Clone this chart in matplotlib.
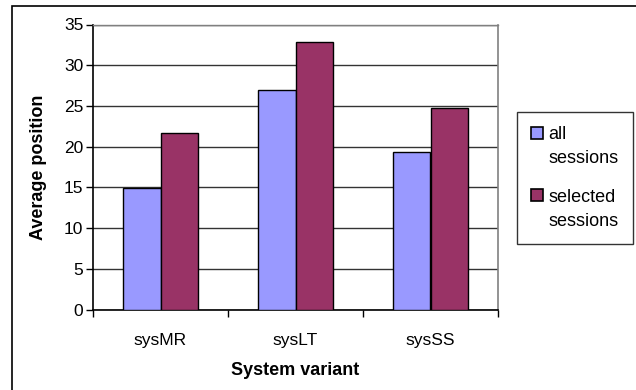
import matplotlib
matplotlib.use("Agg")
import matplotlib.pyplot as plt
import numpy as np
from matplotlib.patches import Rectangle
from matplotlib.legend_handler import HandlerPatch

categories = ["sysMR", "sysLT", "sysSS"]
all_sessions = [14.9, 27.0, 19.4]
selected_sessions = [21.7, 32.9, 24.7]
series_labels = ["all\nsessions", "selected\nsessions"]
yticks = [0, 5, 10, 15, 20, 25, 30, 35]
colors = ['#9999FF', '#993366']

plt.rcParams['font.family'] = ['Liberation Sans', 'DejaVu Sans']

W, H = 636, 390
fig = plt.figure(figsize=(W/100, H/100), dpi=100)

# outer frame
fig.add_artist(Rectangle((12/W, -0.01), (W+10)/W, (H - 6)/H + 0.01, transform=fig.transFigure,
                         fill=False, edgecolor='black', linewidth=1.2))

left, right, top, bottom = 93, 498, 24.5, 309.5
ax = fig.add_axes([left/W, 1 - bottom/H, (right-left)/W, (bottom-top)/H])

x = np.arange(len(categories))
bw = 0.28
ax.bar(x - bw/2, all_sessions, bw, color=colors[0], edgecolor='black', linewidth=1.0, zorder=3)
ax.bar(x + bw/2, selected_sessions, bw, color=colors[1], edgecolor='black', linewidth=1.0, zorder=3)

ax.set_xlim(-0.5, len(categories) - 0.5)
ax.set_ylim(0, 35)
ax.set_yticks(yticks)
ax.set_yticklabels([str(v) for v in yticks], fontsize=12.5)
ax.yaxis.grid(True, color='#333333', linewidth=1.0, zorder=0)
ax.set_axisbelow(True)

ax.set_xticks(x)
ax.set_xticklabels(categories, fontsize=12.5)
ax.tick_params(axis='x', length=0, pad=17)
ax.set_xticks(np.arange(len(categories) + 1) - 0.5, minor=True)
ax.tick_params(axis='x', which='minor', length=5, width=1, direction='out')
ax.tick_params(axis='y', length=5, width=1, direction='out', pad=2)

for s in ['left', 'bottom']:
    ax.spines[s].set_color('black')
    ax.spines[s].set_linewidth(1.2)
ax.spines['right'].set_color('#808080')
ax.spines['top'].set_color('#808080')
ax.spines['right'].set_linewidth(1.2)
ax.spines['top'].set_linewidth(1.0)

ax.set_xlabel("System variant", fontsize=13, fontweight='bold', labelpad=10)
ax.set_ylabel("Average position", fontsize=13, fontweight='bold', labelpad=12)


class TopHandler(HandlerPatch):
    def create_artists(self, legend, orig_handle, xdescent, ydescent,
                       width, height, fontsize, trans):
        p = Rectangle(xy=(-xdescent, -ydescent + 0.78 * fontsize),
                      width=width, height=height)
        self.update_prop(p, orig_handle, legend)
        p.set_transform(trans)
        return [p]


handles = [Rectangle((0, 0), 1, 1, facecolor=c, edgecolor='black', linewidth=1.2)
           for c in colors]
leg = fig.legend(handles, series_labels, loc='upper left',
                 bbox_to_anchor=(516.5/W, 1 - 111.5/H), fontsize=13,
                 frameon=True, fancybox=False, edgecolor='black',
                 handlelength=0.65, handleheight=0.65, handletextpad=0.3,
                 labelspacing=1.2, borderpad=0.8, borderaxespad=0,
                 handler_map={Rectangle: TopHandler()})
leg.get_frame().set_linewidth(1.0)
for t in leg.get_texts():
    t.set_linespacing(1.55)

fig.savefig("out.png", dpi=100)
